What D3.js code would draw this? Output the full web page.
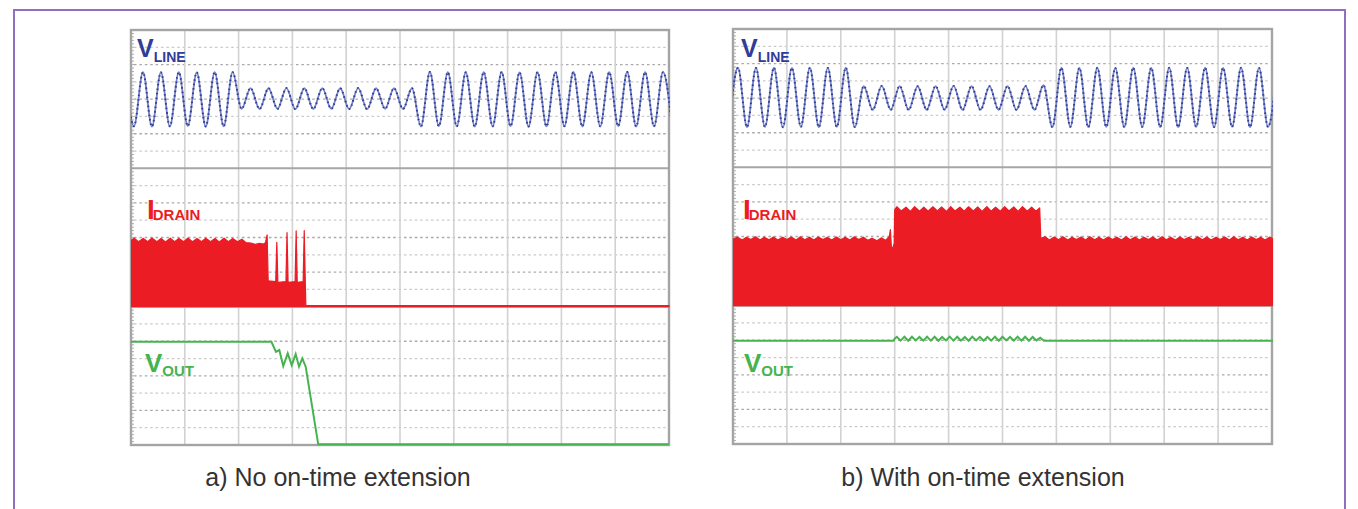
<!DOCTYPE html>
<html>
<head>
<meta charset="utf-8">
<script src="https://cdn.jsdelivr.net/npm/d3@7"></script>
<style>
	body { margin: 0; background: #fff; }
	svg { display: block; font-family: "Liberation Sans", Arial, sans-serif; }
</style>
</head>
<body>
<svg id="chart"></svg>
<script>
// time is in scope divisions (10 across), amplitude in minor grid steps (8 per trace band)

// V_LINE: one value per half cycle (trough / peak), first one at lineT0
const lineHalf = 1 / 6;
const lineT0 = [-0.111, -0.074];
const vlineA = [1.56,
	-1.56, 1.56, -1.58, 1.55, -1.57, 1.56, -1.56, 1.55, -1.58, 1.56, -1.57, 1.56,
	-0.56, 0.64, -0.57, 0.63, -0.56, 0.64, -0.58, 0.63, -0.57, 0.64, -0.56, 0.63, -0.57, 0.64, -0.58, 0.63, -0.56, 0.64, -0.57, 0.63,
	-1.58, 1.57, -1.56, 1.56, -1.57, 1.55, -1.58, 1.56, -1.57, 1.57, -1.56, 1.55, -1.58, 1.56, -1.57, 1.56, -1.56, 1.57, -1.58, 1.55, -1.57, 1.56, -1.56, 1.57, -1.58, 1.56, -1.57, 1.56, -1.57];
const vlineB = [
	-1.66, 1.76, -1.67, 1.75, -1.66, 1.76, -1.68, 1.75, -1.66, 1.76, -1.67, 1.75, -1.66, 1.76, -1.67,
	0.70, -0.68, 0.71, -0.67, 0.70, -0.68, 0.69, -0.68, 0.70, -0.67, 0.71, -0.68, 0.70, -0.68, 0.69, -0.67, 0.70, -0.68, 0.70, -0.68,
	0.75,
	-1.67, 1.76, -1.66, 1.75, -1.68, 1.76, -1.66, 1.75, -1.67, 1.76, -1.66, 1.75, -1.67, 1.76, -1.68, 1.75, -1.66, 1.76, -1.67, 1.75, -1.66, 1.76, -1.67, 1.75, -1.66, 1.76];

// I_DRAIN envelope [t, top]
const drainA = [[0, 3.82], [0.06, 3.96], [0.14, 3.76], [0.23, 3.95], [0.31, 3.75], [0.39, 3.97], [0.48, 3.76], [0.56, 3.95],
	[0.64, 3.74], [0.73, 3.96], [0.81, 3.76], [0.89, 3.95], [0.98, 3.75], [1.06, 3.97], [1.14, 3.76], [1.23, 3.94],
	[1.31, 3.75], [1.39, 3.96], [1.48, 3.76], [1.56, 3.95], [1.64, 3.74], [1.73, 3.96], [1.81, 3.76], [1.89, 3.94],
	[1.98, 3.75], [2.06, 3.9], [2.14, 3.7], [2.23, 3.68], [2.31, 3.6], [2.39, 3.66], [2.46, 3.62], [2.5, 3.7],
	[2.53, 4.15], [2.55, 1.5], [2.69, 1.45], [2.71, 3.72], [2.73, 1.4], [2.88, 1.45], [2.9, 4.28], [2.92, 1.4],
	[3.05, 1.45], [3.07, 4.38], [3.09, 1.4], [3.2, 1.45], [3.22, 4.4], [3.24, 1.35], [3.25, 0.06], [10, 0.06]];
const drainB = [[0, 3.85], [0.08, 3.97], [0.17, 3.8], [0.25, 3.96], [0.33, 3.82], [0.42, 3.98], [0.5, 3.8], [0.58, 3.96],
	[0.67, 3.81], [0.75, 3.97], [0.83, 3.8], [0.92, 3.96], [1.0, 3.82], [1.08, 3.97], [1.17, 3.8], [1.25, 3.98],
	[1.33, 3.81], [1.42, 3.96], [1.5, 3.8], [1.58, 3.97], [1.67, 3.82], [1.75, 3.96], [1.83, 3.8], [1.92, 3.97],
	[2.0, 3.81], [2.08, 3.96], [2.17, 3.8], [2.25, 3.98], [2.33, 3.82], [2.42, 3.96], [2.5, 3.78], [2.58, 3.9],
	[2.67, 3.75], [2.75, 3.92], [2.83, 3.78], [2.9, 4.0], [2.92, 4.4], [2.94, 3.3], [2.97, 3.4], [2.99, 3.6],
	[3.0, 5.55], [3.04, 5.72], [3.12, 5.48], [3.21, 5.7], [3.29, 5.45], [3.37, 5.73], [3.46, 5.47], [3.54, 5.7],
	[3.62, 5.46], [3.71, 5.72], [3.79, 5.48], [3.87, 5.71], [3.96, 5.45], [4.04, 5.73], [4.12, 5.47], [4.21, 5.7],
	[4.29, 5.46], [4.37, 5.72], [4.46, 5.48], [4.54, 5.71], [4.62, 5.45], [4.71, 5.73], [4.79, 5.47], [4.87, 5.7],
	[4.96, 5.46], [5.04, 5.72], [5.12, 5.48], [5.21, 5.71], [5.29, 5.45], [5.37, 5.73], [5.46, 5.47], [5.54, 5.7],
	[5.62, 5.46], [5.69, 5.65], [5.71, 3.9], [5.79, 3.98], [5.87, 3.8], [5.96, 3.97], [6.04, 3.81], [6.12, 3.98],
	[6.21, 3.8], [6.29, 3.96], [6.37, 3.82], [6.46, 3.97], [6.54, 3.8], [6.62, 3.98], [6.71, 3.81], [6.79, 3.96],
	[6.87, 3.8], [6.96, 3.97], [7.04, 3.82], [7.12, 3.96], [7.21, 3.8], [7.29, 3.98], [7.37, 3.81], [7.46, 3.97],
	[7.54, 3.8], [7.62, 3.96], [7.71, 3.82], [7.79, 3.97], [7.87, 3.8], [7.96, 3.98], [8.04, 3.81], [8.12, 3.96],
	[8.21, 3.8], [8.29, 3.97], [8.37, 3.82], [8.46, 3.96], [8.54, 3.8], [8.62, 3.98], [8.71, 3.81], [8.79, 3.97],
	[8.87, 3.8], [8.96, 3.96], [9.04, 3.82], [9.12, 3.97], [9.21, 3.8], [9.29, 3.98], [9.37, 3.81], [9.46, 3.96],
	[9.54, 3.8], [9.62, 3.97], [9.71, 3.82], [9.79, 3.96], [9.87, 3.8], [9.96, 3.97], [10.02, 3.85]];

// V_OUT [t, v]
const voutA = [[0, 5.97], [2.61, 5.97], [2.695, 5.39], [2.757, 5.49], [2.83, 4.57], [2.913, 5.3], [2.987, 4.62],
	[3.061, 5.26], [3.123, 4.53], [3.184, 5.01], [3.247, 4.53], [3.48, 0.04], [10, 0.04]];
const voutB = [[0, 5.97], [2.98, 5.97], [3.0, 6.1], [3.04, 6.2], [3.11, 5.98], [3.18, 6.21], [3.25, 5.97], [3.32, 6.2],
	[3.39, 5.99], [3.46, 6.19], [3.53, 5.98], [3.6, 6.21], [3.67, 5.98], [3.74, 6.2], [3.81, 5.97], [3.88, 6.19],
	[3.95, 5.99], [4.02, 6.21], [4.09, 5.98], [4.16, 6.2], [4.23, 5.98], [4.3, 6.19], [4.37, 5.97], [4.44, 6.21],
	[4.51, 5.99], [4.58, 6.2], [4.65, 5.98], [4.72, 6.19], [4.79, 5.98], [4.86, 6.21], [4.93, 5.97], [5.0, 6.2],
	[5.07, 5.99], [5.14, 6.19], [5.21, 5.98], [5.28, 6.21], [5.35, 5.98], [5.42, 6.2], [5.49, 5.97], [5.56, 6.19],
	[5.63, 5.99], [5.7, 6.15], [5.77, 5.97], [10.05, 5.97]];

const captions = ["a) No on-time extension", "b) With on-time extension"];

const blue = "#4652ad", red = "#ec1c24", green = "#46b34f";

let w = 1358, h = 509;
let chart = d3.select("#chart").attr("width", w).attr("height", h);

// outer purple frame
chart.append("rect")
	.attr("x", 14).attr("y", 10)
	.attr("width", 1331).attr("height", 540)
	.attr("fill", "none")
	.attr("stroke", "#8f6fc2")
	.attr("stroke-width", 2);

const panels = [
	{ x: 131, y: 30, w: 538, h: 415, vline: vlineA, t0: lineT0[0], drain: drainA, vout: voutA, cap: captions[0], capX: 338,
		lab: { v: 137, i: 147, o: 145 } },
	{ x: 733, y: 29, w: 539, h: 415, vline: vlineB, t0: lineT0[1], drain: drainB, vout: voutB, cap: captions[1], capX: 983,
		lab: { v: 741, i: 743, o: 744 } }
];

panels.forEach((p, pi) => {
	let bh = p.h / 3;
	let xScale = d3.scaleLinear().domain([0, 10]).range([p.x, p.x + p.w]);
	let band = k => d3.scaleLinear().domain([0, 8]).range([p.y + (k + 1) * bh, p.y + k * bh]);
	let yLine = d3.scaleLinear().domain([-4, 4]).range([p.y + bh, p.y]);
	let yDrain = band(1), yOut = band(2);

	let g = chart.append("g");

	g.append("rect")
		.attr("x", p.x).attr("y", p.y).attr("width", p.w).attr("height", p.h)
		.attr("fill", "#fff");

	// dotted minor horizontals
	for (let k = 0; k < 3; k++) {
		let ys = band(k);
		d3.range(1, 8).forEach(j => {
			g.append("line")
				.attr("x1", p.x + 3).attr("x2", p.x + p.w - 3)
				.attr("y1", ys(j)).attr("y2", ys(j))
				.attr("stroke", j % 2 ? "#c9c9c9" : "#a9a9a9")
				.attr("stroke-width", 1.3)
				.attr("stroke-dasharray", "2.5,2.9");
		});
	}

	// vertical divisions
	d3.range(1, 10).forEach(i => {
		g.append("line")
			.attr("x1", xScale(i)).attr("x2", xScale(i))
			.attr("y1", p.y).attr("y2", p.y + p.h)
			.attr("stroke", "#d2d2d2")
			.attr("stroke-width", 1.6);
	});

	// band separators
	[1, 2].forEach(k => {
		g.append("line")
			.attr("x1", p.x).attr("x2", p.x + p.w)
			.attr("y1", p.y + k * bh).attr("y2", p.y + k * bh)
			.attr("stroke", "#a6a6a6")
			.attr("stroke-width", 2);
	});

	// minor ticks on left edge
	d3.range(0, 121).forEach(j => {
		let y = p.y + j * bh / 40;
		g.append("line")
			.attr("x1", p.x).attr("x2", p.x + 3)
			.attr("y1", y).attr("y2", y)
			.attr("stroke", "#9a9a9a").attr("stroke-width", 0.8);
	});

	g.append("rect")
		.attr("x", p.x).attr("y", p.y).attr("width", p.w).attr("height", p.h)
		.attr("fill", "none")
		.attr("stroke", "#a4a4a4")
		.attr("stroke-width", 2.4);

	// clip traces to screen
	chart.append("clipPath").attr("id", "clip" + pi)
		.append("rect").attr("x", p.x).attr("y", p.y - 2).attr("width", p.w + 1).attr("height", p.h + 4);
	let tg = chart.append("g").attr("clip-path", `url(#clip${pi})`);

	// V_LINE
	let line = d3.line()
		.x((d, i) => xScale(p.t0 + i * lineHalf))
		.y(d => yLine(d))
		.curve(d3.curveMonotoneX);
	tg.append("path")
		.attr("d", line(p.vline))
		.attr("fill", "none")
		.attr("stroke", "#7581c6")
		.attr("stroke-width", 1.8);
	tg.append("path")
		.attr("d", line(p.vline))
		.attr("fill", "none")
		.attr("stroke", "#2f3c98")
		.attr("stroke-width", 2)
		.attr("stroke-dasharray", "1.5,3");

	// I_DRAIN
	let area = d3.area()
		.x(d => xScale(d[0]))
		.y0(yDrain(0))
		.y1(d => yDrain(d[1]));
	tg.append("path")
		.attr("d", area(p.drain))
		.attr("fill", red)
		.attr("stroke", red)
		.attr("stroke-width", 1.2)
		.attr("stroke-linejoin", "round");

	// V_OUT
	let outLine = d3.line()
		.x(d => xScale(d[0]))
		.y(d => yOut(d[1]));
	tg.append("path")
		.attr("d", outLine(p.vout))
		.attr("fill", "none")
		.attr("stroke", green)
		.attr("stroke-width", 2);

	// trace labels
	let t1 = g.append("text").attr("x", p.lab.v).attr("y", 57)
		.attr("fill", "#2f3c98").attr("font-weight", "bold").attr("font-size", 25).text("V");
	t1.append("tspan").attr("font-size", 14).attr("dy", 5).text("LINE");

	let t2 = g.append("text").attr("x", p.lab.i).attr("y", 219)
		.attr("fill", red).attr("font-weight", "bold").attr("font-size", 28).text("I");
	t2.append("tspan").attr("font-size", 15).attr("dx", -2).attr("dy", 1).text("DRAIN");

	let t3 = g.append("text").attr("x", p.lab.o).attr("y", 372)
		.attr("fill", green).attr("font-weight", "bold").attr("font-size", 26).text("V");
	t3.append("tspan").attr("font-size", 15).attr("dy", 4).text("OUT");

	// caption
	chart.append("text")
		.attr("x", p.capX).attr("y", 486)
		.attr("text-anchor", "middle")
		.attr("font-size", 25)
		.attr("fill", "#333")
		.text(p.cap);
});
</script>
</body>
</html>
